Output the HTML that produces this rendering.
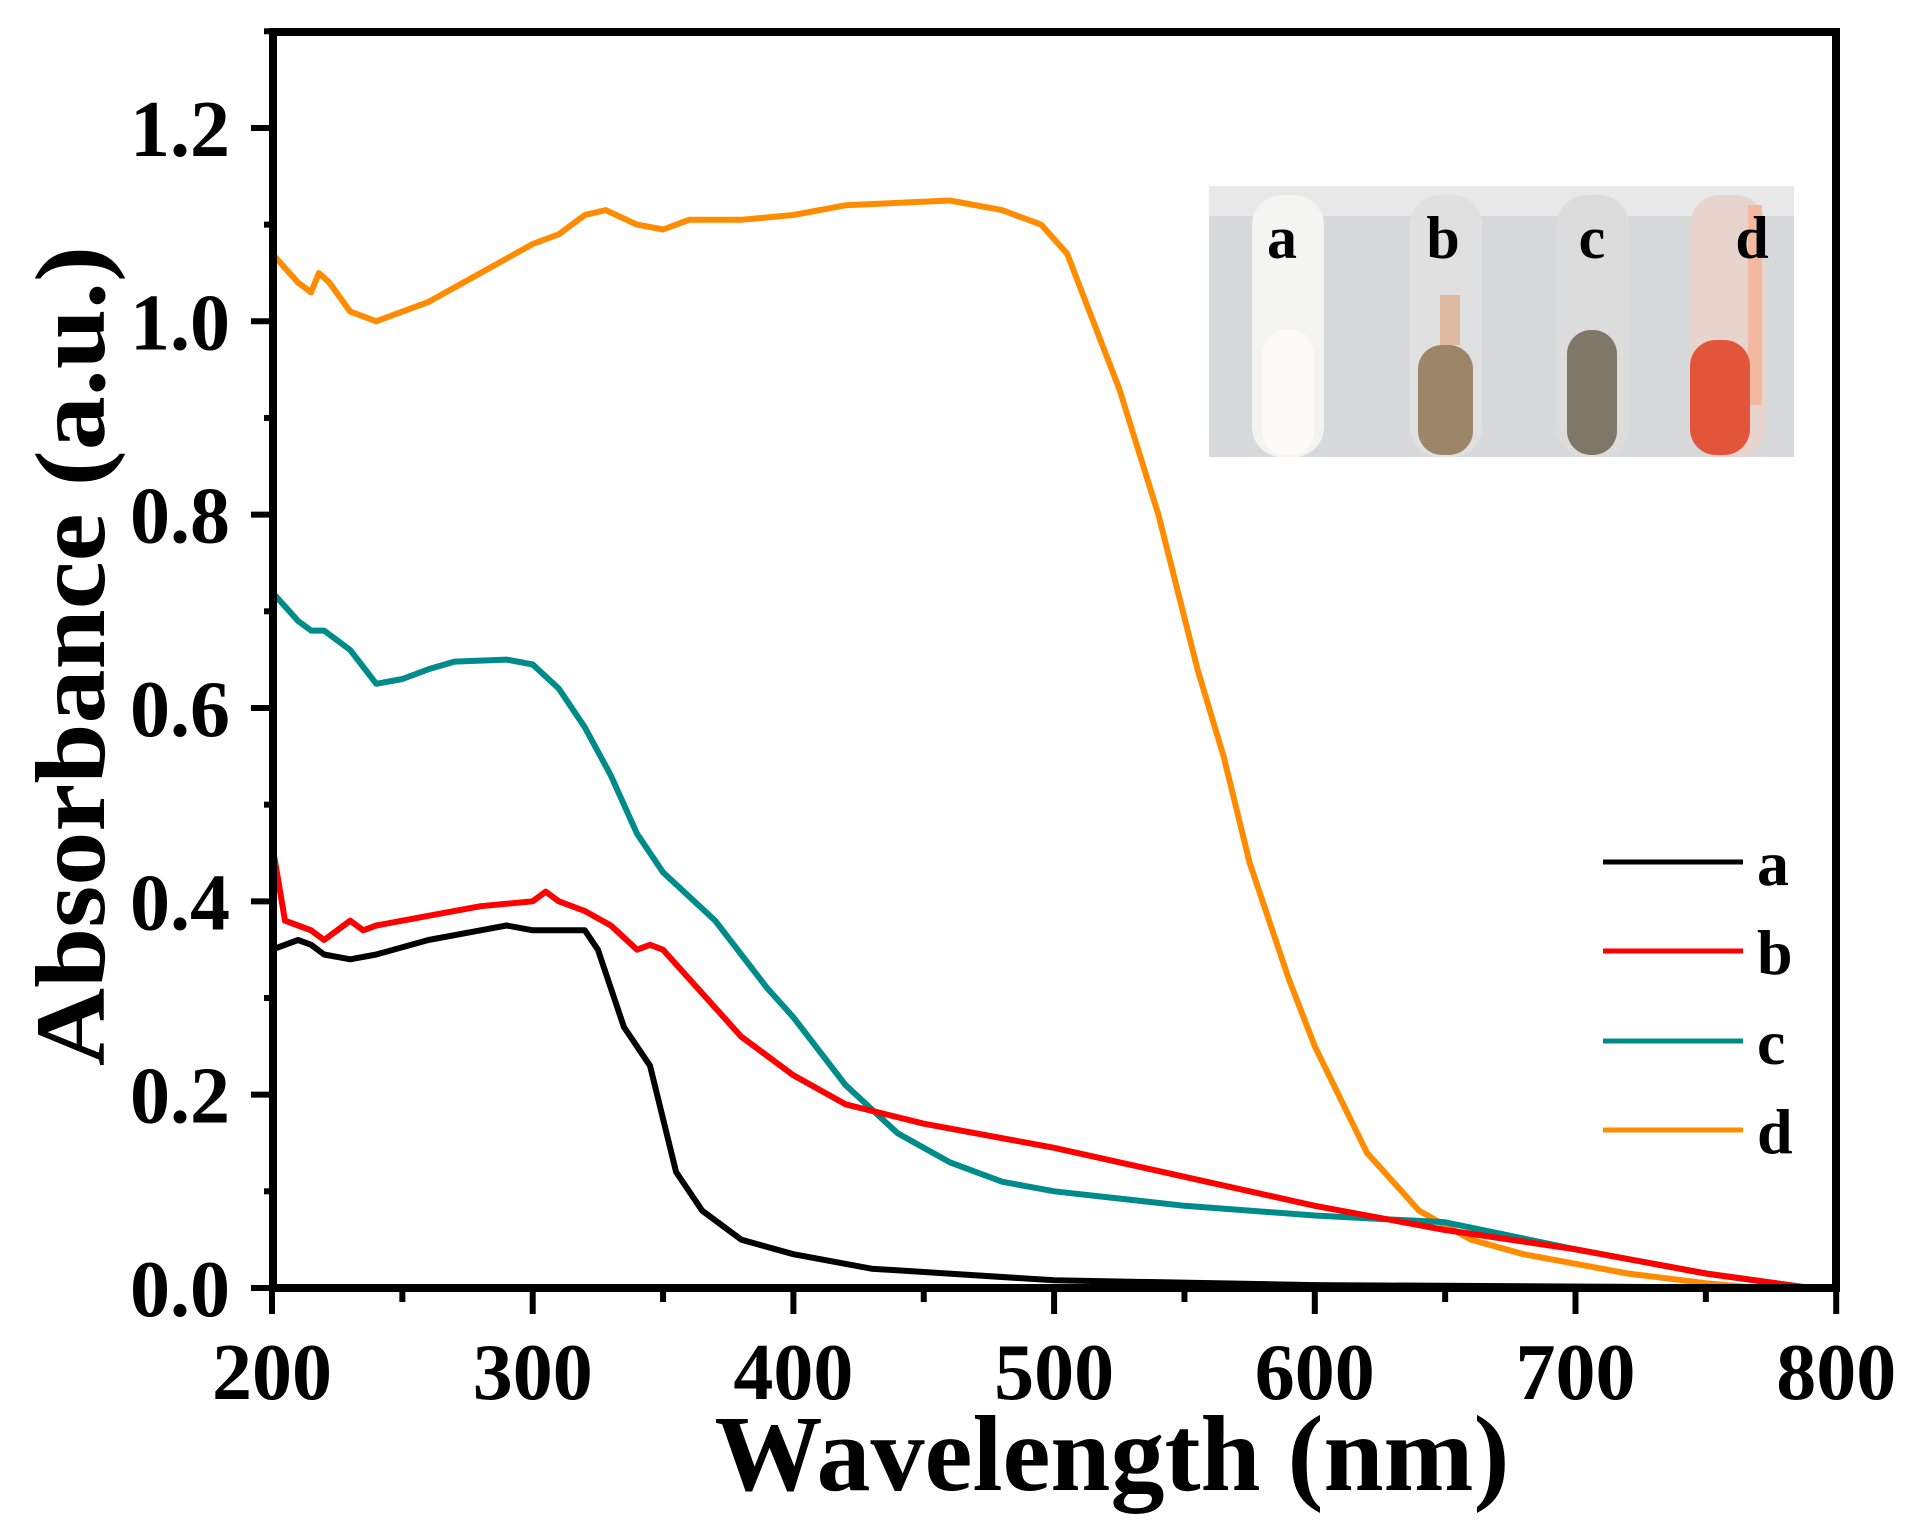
<!DOCTYPE html>
<html><head><meta charset="utf-8"><style>
body{margin:0;background:#fff}
svg{display:block}
text{font-family:"Liberation Serif",serif;font-weight:bold;fill:#000}
</style></head><body>
<svg id="s" width="1922" height="1530" viewBox="0 0 1922 1530" xmlns="http://www.w3.org/2000/svg">
<rect width="1922" height="1530" fill="#fff"/>
<g>
<rect x="1209" y="186" width="585" height="271" fill="#d8d9db"/>
<rect x="1209" y="186" width="585" height="30" fill="#e8e8e8"/>
<rect x="1252" y="195" width="72" height="262" rx="30" fill="#f4f4f2"/>
<rect x="1262" y="330" width="52" height="125" rx="24" fill="#fbfaf6"/>
<rect x="1410" y="195" width="72" height="262" rx="30" fill="#e0e0e0"/>
<rect x="1418" y="345" width="55" height="110" rx="24" fill="#9c866a"/>
<rect x="1440" y="295" width="20" height="50" fill="#dcb9a0"/>
<rect x="1557" y="195" width="72" height="262" rx="30" fill="#dcdcdc"/>
<rect x="1567" y="330" width="50" height="125" rx="24" fill="#7f7767"/>
<rect x="1690" y="195" width="75" height="262" rx="30" fill="#e6d4cd"/>
<rect x="1748" y="205" width="14" height="200" fill="#f2b9a0"/>
<rect x="1690" y="340" width="60" height="115" rx="26" fill="#e2553a"/>
<text x="1282" y="258" font-size="60" text-anchor="middle">a</text>
<text x="1443" y="258" font-size="60" text-anchor="middle">b</text>
<text x="1592" y="258" font-size="60" text-anchor="middle">c</text>
<text x="1752" y="258" font-size="60" text-anchor="middle">d</text>
</g>
<g id="curves" fill="none" stroke-width="6" stroke-linejoin="round"></g>
<rect x="273" y="32" width="1563" height="1256" fill="none" stroke="#000" stroke-width="8"/>
<g id="ticks" stroke="#000" stroke-width="6"></g>
<g id="labels"></g>
<g stroke-width="5">
<line x1="1603" y1="862" x2="1743" y2="862" stroke="#000"/>
<line x1="1603" y1="951" x2="1743" y2="951" stroke="#ff0000"/>
<line x1="1603" y1="1041" x2="1743" y2="1041" stroke="#008b8b"/>
<line x1="1603" y1="1130" x2="1743" y2="1130" stroke="#ff8c00"/>
</g>
<text x="1757" y="885" font-size="64">a</text>
<text x="1757" y="974" font-size="64">b</text>
<text x="1757" y="1064" font-size="64">c</text>
<text x="1757" y="1153" font-size="64">d</text>
<text x="1112" y="1490" font-size="108" text-anchor="middle" textLength="795" lengthAdjust="spacingAndGlyphs">Wavelength (nm)</text>
<text transform="translate(104,656) rotate(-90)" font-size="100" text-anchor="middle" textLength="820" lengthAdjust="spacingAndGlyphs">Absorbance (a.u.)</text>
</svg>
<script>
const X=n=>272+(n-200)*2.607, Y=a=>1288-a*966.7;
const NS="http://www.w3.org/2000/svg";
const data={
"#ff8c00":[[200,1.07],[210,1.04],[215,1.03],[218,1.05],[222,1.04],[230,1.01],[240,1.0],[250,1.01],[260,1.02],[280,1.05],[300,1.08],[310,1.09],[320,1.11],[328,1.115],[340,1.1],[350,1.095],[360,1.105],[380,1.105],[400,1.11],[420,1.12],[460,1.125],[480,1.115],[495,1.1],[505,1.07],[515,1.0],[525,0.93],[540,0.8],[555,0.64],[565,0.55],[575,0.44],[590,0.32],[600,0.25],[620,0.14],[640,0.08],[660,0.05],[680,0.035],[700,0.025],[720,0.015],[750,0.005],[770,0]],
"#008b8b":[[200,0.72],[210,0.69],[215,0.68],[220,0.68],[230,0.66],[240,0.625],[250,0.63],[260,0.64],[270,0.648],[290,0.65],[300,0.645],[310,0.62],[320,0.58],[330,0.53],[340,0.47],[350,0.43],[370,0.38],[390,0.31],[400,0.28],[420,0.21],[440,0.16],[460,0.13],[480,0.11],[500,0.1],[550,0.085],[600,0.075],[650,0.068],[700,0.04],[750,0.015],[790,0]],
"#ff0000":[[200,0.46],[205,0.38],[210,0.375],[215,0.37],[220,0.36],[225,0.37],[230,0.38],[235,0.37],[240,0.375],[260,0.385],[280,0.395],[300,0.4],[305,0.41],[310,0.4],[320,0.39],[330,0.375],[340,0.35],[345,0.355],[350,0.35],[360,0.32],[380,0.26],[400,0.22],[420,0.19],[450,0.17],[500,0.145],[550,0.115],[600,0.085],[650,0.06],[700,0.04],[750,0.015],[790,0]],
"#000000":[[200,0.35],[205,0.355],[210,0.36],[215,0.355],[220,0.345],[230,0.34],[240,0.345],[260,0.36],[280,0.37],[290,0.375],[300,0.37],[320,0.37],[325,0.35],[330,0.31],[335,0.27],[345,0.23],[355,0.12],[365,0.08],[380,0.05],[400,0.035],[430,0.02],[500,0.008],[600,0.003],[800,0]]};
const g=document.getElementById("curves");
for(const c of ["#ff8c00","#008b8b","#ff0000","#000000"]){
 const p=document.createElementNS(NS,"path");
 p.setAttribute("d","M"+data[c].map(q=>X(q[0]).toFixed(1)+","+Y(q[1]).toFixed(1)).join(" L"));
 p.setAttribute("stroke",c);g.appendChild(p);}
const t=document.getElementById("ticks"),L=document.getElementById("labels");
function line(x1,y1,x2,y2){const l=document.createElementNS(NS,"line");l.setAttribute("x1",x1);l.setAttribute("y1",y1);l.setAttribute("x2",x2);l.setAttribute("y2",y2);t.appendChild(l);}
function txt(x,y,s,a){const e=document.createElementNS(NS,"text");e.setAttribute("x",x);e.setAttribute("y",y);e.setAttribute("font-size","80");e.setAttribute("text-anchor",a);e.textContent=s;L.appendChild(e);}
for(let n=200;n<=800;n+=50){const maj=n%100==0;line(X(n),1288,X(n),1288+(maj?26:14));if(maj)txt(X(n),1399,n,"middle");}
for(let i=0;i<=13;i++){const a=i*0.1,maj=i%2==0;line(273,Y(a),273-(maj?22:9),Y(a));if(maj&&i<=12)txt(230,Y(a)+28,a.toFixed(1),"end");}
</script>
</body></html>
